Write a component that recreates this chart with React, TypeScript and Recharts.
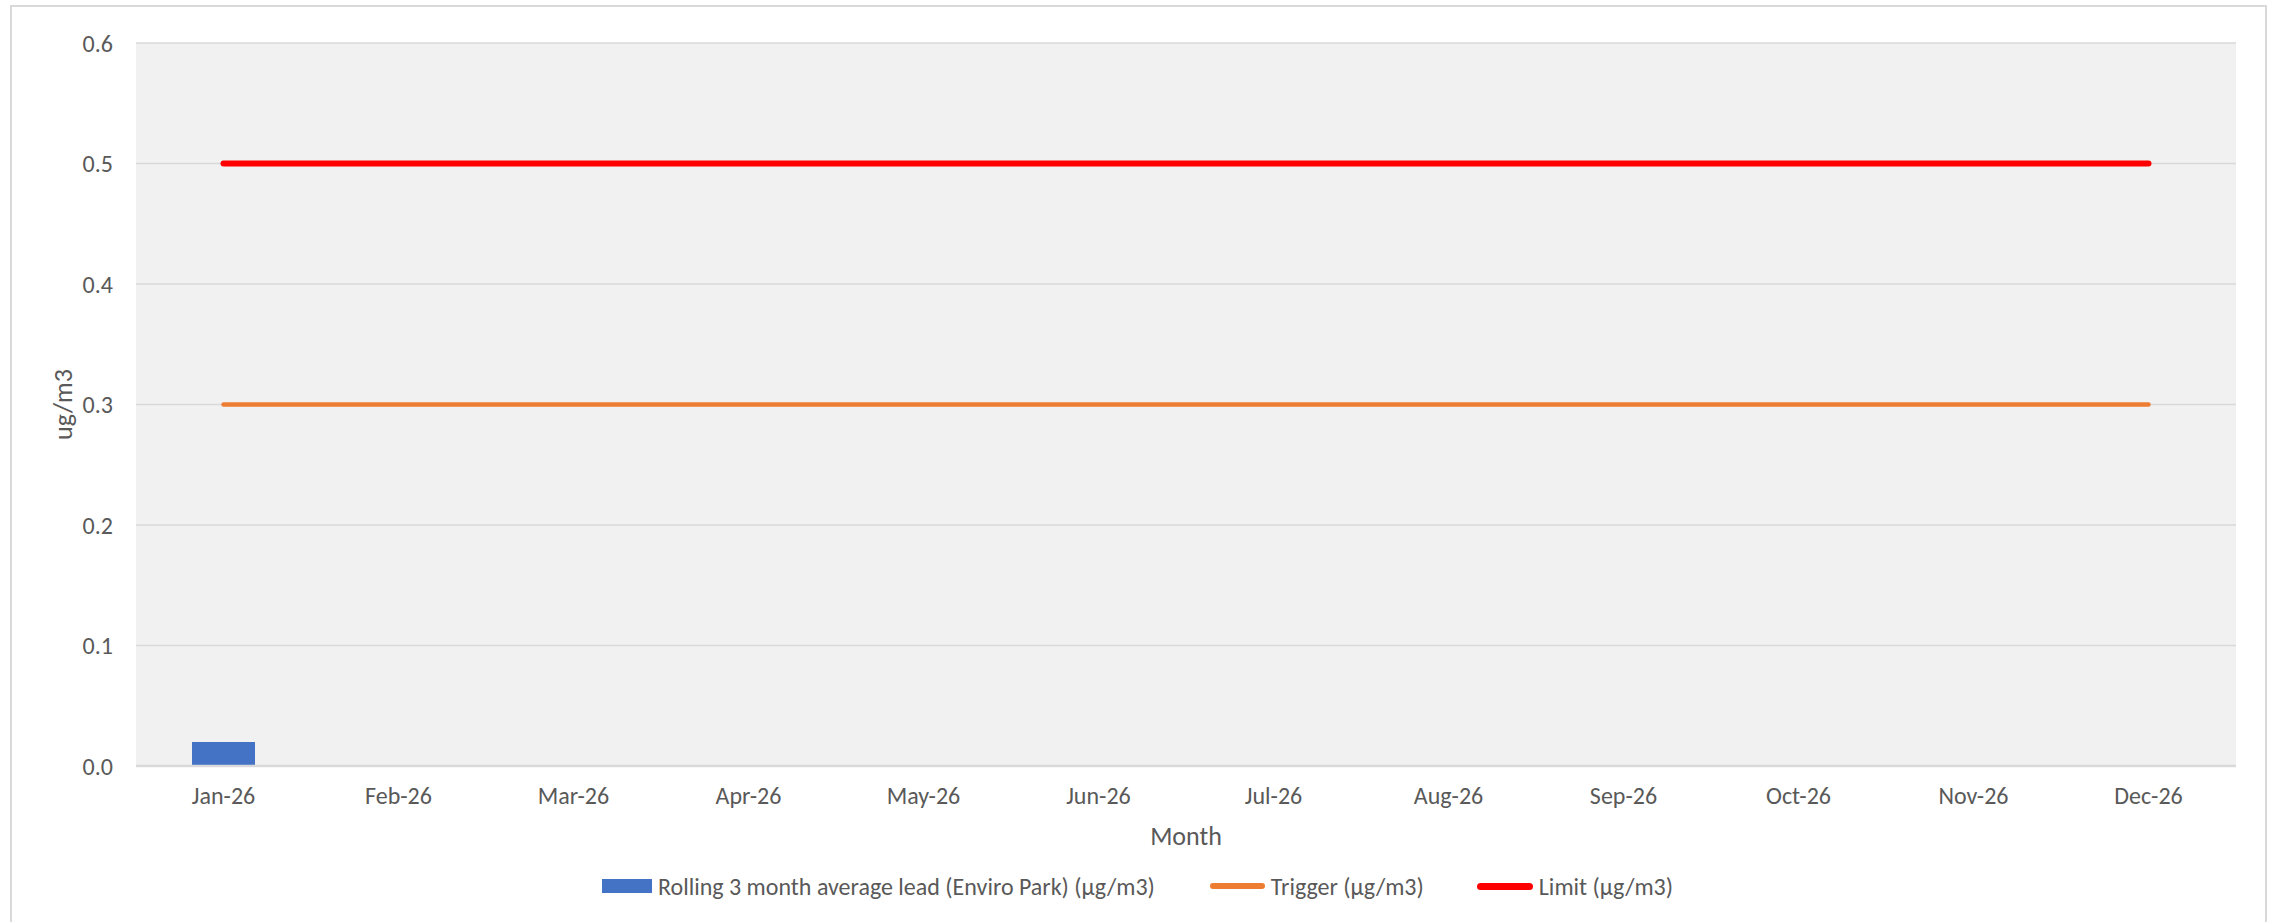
import React from 'react';
import { ComposedChart, Bar, Line, XAxis, YAxis, CartesianGrid, Legend } from 'recharts';

const months = ['Jan-26', 'Feb-26', 'Mar-26', 'Apr-26', 'May-26', 'Jun-26', 'Jul-26', 'Aug-26', 'Sep-26', 'Oct-26', 'Nov-26', 'Dec-26'];
const leadValues: (number | null)[] = [0.02, null, null, null, null, null, null, null, null, null, null, null];
const triggerValues = [0.3, 0.3, 0.3, 0.3, 0.3, 0.3, 0.3, 0.3, 0.3, 0.3, 0.3, 0.3];
const limitValues = [0.5, 0.5, 0.5, 0.5, 0.5, 0.5, 0.5, 0.5, 0.5, 0.5, 0.5, 0.5];
const yTicks = [0, 0.1, 0.2, 0.3, 0.4, 0.5, 0.6];

const seriesNames = {
  lead: 'Rolling 3 month average lead (Enviro Park) (\u00b5g/m3)',
  trigger: 'Trigger (\u00b5g/m3)',
  limit: 'Limit (\u00b5g/m3)',
};

const data = months.map((m, i) => ({
  month: m,
  lead: leadValues[i],
  trigger: triggerValues[i],
  limit: limitValues[i],
}));

const FONT = "Carlito, 'Open Sans', sans-serif";
const TXT = '#595959';
const FS = 24;

const YLabel = (props: any) => {
  const vb = props.viewBox || {};
  const cx = 63;
  const cy = vb.y + vb.height / 2;
  return (
    <text x={cx} y={cy} transform={`rotate(-90, ${cx}, ${cy})`} textAnchor="middle" dominantBaseline="central"
      fill={TXT} fontSize={26} fontFamily={FONT}>ug/m3</text>
  );
};

const XLabel = (props: any) => {
  const vb = props.viewBox || {};
  return (
    <text x={vb.x + vb.width / 2} y={836} textAnchor="middle" dominantBaseline="central"
      fill={TXT} fontSize={26} fontFamily={FONT}>Month</text>
  );
};

const LegendContent = () => {
  const item = (key: string, swatch: React.ReactNode, label: string, gapAfter: number) => (
    <div key={key} style={{ display: 'flex', alignItems: 'center', marginRight: gapAfter }}>
      {swatch}
      <span style={{ marginLeft: 6, color: TXT, fontSize: FS, fontFamily: FONT, whiteSpace: 'nowrap' }}>{label}</span>
    </div>
  );
  return (
    <div style={{ display: 'flex', justifyContent: 'center', alignItems: 'center', height: 30 }}>
      {item('lead', <div style={{ width: 50, height: 14, background: '#4472C4' }} />, seriesNames.lead, 55)}
      {item('trigger', <div style={{ width: 55, height: 6, borderRadius: 3, background: '#ED7D31' }} />, seriesNames.trigger, 53)}
      {item('limit', <div style={{ width: 56, height: 7, borderRadius: 3.5, background: '#FF0000' }} />, seriesNames.limit, 0)}
    </div>
  );
};

export default function App() {
  return (
    <div style={{ position: 'absolute', left: 0, top: 0, width: 2270, height: 922, background: '#fff', overflow: 'hidden' }}>
      <div style={{ position: 'absolute', left: 10, top: 5, width: 2257, height: 930, border: '2px solid #D9D9D9', boxSizing: 'border-box' }} />
      <div style={{ position: 'absolute', left: 0, top: 0 }}>
        <ComposedChart width={2270} height={922} data={data} margin={{ top: 43, right: 34, left: 0, bottom: 66 }}>
          <CartesianGrid vertical={false} stroke="#D9D9D9" strokeWidth={1.5} fill="#F1F1F1" />
          <XAxis dataKey="month" height={90} tickSize={0} tickMargin={21} tickLine={false}
            axisLine={{ stroke: '#D9D9D9', strokeWidth: 2.5 }}
            tick={{ fill: TXT, fontSize: FS, fontFamily: FONT }} label={<XLabel />} />
          <YAxis width={136} domain={[0, 0.6]} ticks={yTicks} tickSize={0} tickMargin={23}
            axisLine={false} tickLine={false} tickFormatter={(v: number) => v.toFixed(1)}
            tick={{ fill: TXT, fontSize: FS, fontFamily: FONT }} label={<YLabel />} />
          <Bar dataKey="lead" name={seriesNames.lead} fill="#4472C4" barSize={63} isAnimationActive={false} />
          <Line dataKey="trigger" name={seriesNames.trigger} stroke="#ED7D31" strokeWidth={4.5} strokeLinecap="round" dot={false} activeDot={false} isAnimationActive={false} />
          <Line dataKey="limit" name={seriesNames.limit} stroke="#FF0000" strokeWidth={6} strokeLinecap="round" dot={false} activeDot={false} isAnimationActive={false} />
          <Legend verticalAlign="middle" layout="horizontal" content={<LegendContent />}
            wrapperStyle={{ top: 871, left: 10, width: 2255 }} />
        </ComposedChart>
      </div>
    </div>
  );
}
